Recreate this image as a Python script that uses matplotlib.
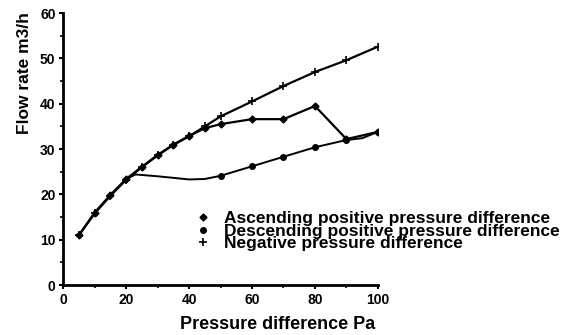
import matplotlib.pyplot as plt
from matplotlib.lines import Line2D

# pressure difference (Pa) and flow rate (m3/h)
asc_x = [5, 10, 15, 20, 25, 30, 35, 40, 45, 50, 60, 70, 80, 90, 100]
asc_y = [11.0, 16.0, 19.9, 23.4, 26.1, 28.7, 31.0, 32.9, 34.6, 35.5, 36.6, 36.6, 39.5, 32.2, 33.8]

desc_x = [20, 23, 30, 40, 45, 50, 60, 70, 80, 90, 95, 100]
desc_y = [23.4, 24.4, 24.0, 23.3, 23.4, 24.1, 26.2, 28.3, 30.4, 32.0, 32.4, 33.8]
desc_marks = [5, 6, 7, 8, 9, 11]

neg_x = [5, 10, 15, 20, 25, 30, 35, 40, 45, 50, 60, 70, 80, 90, 100]
neg_y = [11.0, 15.8, 19.7, 23.2, 26.0, 28.6, 30.9, 32.8, 35.0, 37.2, 40.5, 43.9, 47.0, 49.6, 52.6]

labels = ['Ascending positive pressure difference',
          'Descending positive pressure difference',
          'Negative pressure difference']

plt.rcParams['font.family'] = ['Liberation Sans', 'DejaVu Sans']

fig = plt.figure(figsize=(5.85, 3.35), dpi=100)
ax = fig.add_axes([0.108, 0.149, 0.538, 0.812])

ax.plot(neg_x, neg_y, color='black', lw=1.6, marker='+', ms=6, mew=1.2)
ax.plot(asc_x, asc_y, color='black', lw=1.6, marker='D', ms=3.5)
ax.plot(desc_x, desc_y, color='black', lw=1.4, marker='o', ms=4,
        markevery=desc_marks)

ax.set_xlim(0, 100)
ax.set_ylim(0, 60)
ax.set_xticks([0, 20, 40, 60, 80, 100])
ax.set_yticks([0, 10, 20, 30, 40, 50, 60])
ax.set_xticks(range(0, 101, 10), minor=True)
ax.set_yticks(range(0, 61, 5), minor=True)
for s in ['top', 'right']:
    ax.spines[s].set_visible(False)
for s in ['left', 'bottom']:
    ax.spines[s].set_linewidth(2)
ax.tick_params(which='major', length=3, width=1.5, labelsize=10, pad=2.5)
ax.tick_params(which='minor', length=2, width=1.2)
for t in ax.get_xticklabels() + ax.get_yticklabels():
    t.set_fontweight('bold')

# axis titles sit off-centre in the original
ax.set_xlabel('Pressure difference Pa', fontsize=13, fontweight='bold')
ax.set_ylabel('Flow rate m3/h', fontsize=12.5, fontweight='bold')
ax.xaxis.set_label_coords(0.68, -0.115)
ax.yaxis.set_label_coords(-0.098, 0.78)

handles = [Line2D([], [], color='black', marker='D', ms=3.5, ls='None'),
           Line2D([], [], color='black', marker='o', ms=4, ls='None'),
           Line2D([], [], color='black', marker='+', ms=6, mew=1.2, ls='None')]
fig.legend(handles, labels, loc='center left', bbox_to_anchor=(0.321, 0.31),
           frameon=False, prop={'size': 12.5, 'weight': 'bold'},
           handlelength=0.8, handletextpad=0.8,
           labelspacing=-0.15, borderpad=0)

fig.savefig('out.png', dpi=100)
